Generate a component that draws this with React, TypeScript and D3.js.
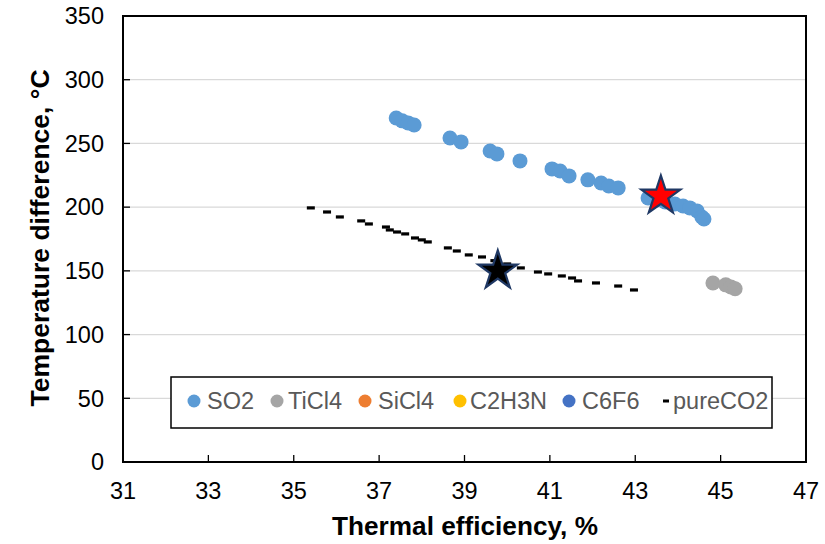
import React from "react";
import * as d3 from "d3";

const so2X = [37.40, 37.54, 37.68, 37.82, 38.66, 38.92, 39.60, 39.76, 40.30, 41.05, 41.24, 41.45, 41.89, 42.20, 42.38, 42.60, 43.30, 43.49, 43.70, 43.93, 44.12, 44.28, 44.45, 44.56, 44.61];
const so2Y = [270.0, 267.7, 266.1, 264.5, 254.3, 251.2, 244.1, 241.8, 236.3, 230.0, 228.4, 224.5, 221.4, 219.0, 216.6, 215.1, 207.2, 205.7, 204.1, 202.5, 200.9, 199.4, 197.0, 192.3, 190.7];
const ticl4X = [44.82, 45.12, 45.24, 45.34];
const ticl4Y = [140.5, 139.0, 137.4, 136.0];
const co2X = [35.40, 35.78, 36.08, 36.58, 36.76, 37.16, 37.25, 37.42, 37.61, 37.84, 38.00, 38.14, 38.61, 38.82, 39.10, 39.41, 39.70, 40.00, 40.32, 40.72, 40.96, 41.28, 41.52, 41.66, 42.08, 42.60, 42.97];
const co2Y = [199.4, 196.2, 192.3, 189.2, 186.8, 184.4, 182.1, 180.5, 179.0, 175.8, 174.3, 172.7, 168.0, 165.6, 162.5, 160.9, 158.0, 155.4, 152.3, 149.1, 147.6, 146.0, 144.4, 142.1, 140.5, 138.1, 135.0];
const starX = [43.60, 39.78];
const starY = [208.8, 150.0];
const starFill = ["#FF0000", "#000000"];
const xTicks = [31, 33, 35, 37, 39, 41, 43, 45, 47];
const yTicks = [0, 50, 100, 150, 200, 250, 300, 350];
const legendNames = ["SO2", "TiCl4", "SiCl4", "C2H3N", "C6F6", "pureCO2"];
const legendColors = ["#5B9BD5", "#A5A5A5", "#ED7D31", "#FFC000", "#4472C4", "#000000"];

const W = 825, H = 544;
const L = 123, R = 806, T = 16, B = 462;

export default function App() {
  const x = d3.scaleLinear().domain([31, 47]).range([L, R]);
  const y = d3.scaleLinear().domain([0, 350]).range([B, T]);
  const star = d3.symbol().type(d3.symbolStar).size(470)();
  const font = "Liberation Sans, Arial, sans-serif";
  const legendX = [194, 277, 365, 460, 569, 666];
  const legendTextX = [207, 288, 378, 470, 582, 673];
  return (
    <svg width={W} height={H} style={{ position: "absolute", left: 0, top: 0, background: "#fff" }} fontFamily={font}>
      <rect x={0} y={0} width={W} height={H} fill="#fff" />
      {yTicks.filter(t => t > 0 && t < 350).map(t => (
        <line key={"g" + t} x1={L} x2={R} y1={y(t)} y2={y(t)} stroke="#D9D9D9" strokeWidth={1.3} />
      ))}
      {yTicks.map(t => (
        <line key={"yt" + t} x1={L} x2={L + 7} y1={y(t)} y2={y(t)} stroke="#000" strokeWidth={1.3} />
      ))}
      {xTicks.map(t => (
        <line key={"xt" + t} x1={x(t)} x2={x(t)} y1={B} y2={B - 7} stroke="#000" strokeWidth={1.3} />
      ))}
      <rect x={L} y={T} width={R - L} height={B - T} fill="none" stroke="#000" strokeWidth={2} />
      {yTicks.map(t => (
        <text key={"yl" + t} x={104} y={y(t)} dy="0.35em" textAnchor="end" fontSize={23.5} fill="#000">{t}</text>
      ))}
      {xTicks.map(t => (
        <text key={"xl" + t} x={x(t)} y={499} textAnchor="middle" fontSize={23.5} fill="#000">{t}</text>
      ))}
      <text x={465} y={535} textAnchor="middle" fontSize={26.2} fontWeight="bold" fill="#000">Thermal efficiency, %</text>
      <text transform={`translate(49,${238}) rotate(-90)`} textAnchor="middle" fontSize={26.5} fontWeight="bold" fill="#000">Temperature difference, °C</text>
      {co2X.map((v, i) => (
        <rect key={"c" + i} x={x(v) - 4} y={y(co2Y[i]) - 1.6} width={8} height={3.2} fill="#000" />
      ))}
      {so2X.map((v, i) => (
        <circle key={"s" + i} cx={x(v)} cy={y(so2Y[i])} r={7.5} fill="#5B9BD5" />
      ))}
      {ticl4X.map((v, i) => (
        <circle key={"t" + i} cx={x(v)} cy={y(ticl4Y[i])} r={7.5} fill="#A5A5A5" />
      ))}
      {starX.map((v, i) => (
        <path key={"st" + i} d={star || ""} transform={`translate(${x(v)},${y(starY[i])})`} fill={starFill[i]} stroke="#1F3864" strokeWidth={2.2} strokeLinejoin="miter" />
      ))}
      <rect x={171} y={377} width={601} height={51} fill="#fff" stroke="#000" strokeWidth={1.5} />
      {legendNames.map((n, i) => (
        <g key={"lg" + i}>
          {i < 5 ? (
            <circle cx={legendX[i]} cy={401} r={6.5} fill={legendColors[i]} />
          ) : (
            <rect x={legendX[i] - 3} y={399.5} width={6} height={3} fill="#000" />
          )}
          <text x={legendTextX[i]} y={401} dy="0.35em" fontSize={23.5} fill="#595959">{n}</text>
        </g>
      ))}
    </svg>
  );
}
